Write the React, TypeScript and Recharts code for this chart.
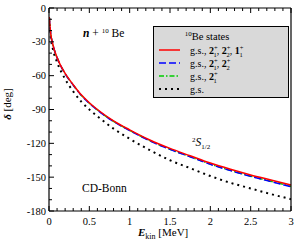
import React from "react";
import { LineChart, Line, XAxis, YAxis } from "recharts";

const energies = [0.003, 0.02, 0.05, 0.1, 0.2, 0.3, 0.4, 0.5, 0.6, 0.8, 1.0, 1.25, 1.5, 1.75, 2.0, 2.25, 2.5, 2.75, 3.0];
const fullStates = [-8, -22, -33, -44, -58, -68, -77, -84, -90, -100, -108, -117, -124.5, -131, -137.5, -143, -148, -152.5, -157];
const twoPlusStates = [-8, -22, -33, -44, -58.3, -68.4, -77.4, -84.5, -90.5, -100.6, -108.7, -117.8, -125.4, -132, -138.6, -144.2, -149.3, -153.9, -158.5];
const onePlusStates = [-8, -22, -33, -44, -58.2, -68.3, -77.3, -84.4, -90.4, -100.5, -108.5, -117.6, -125.2, -131.8, -138.4, -144, -149.1, -153.6, -158.2];
const gsOnly = [-9, -25, -37, -48, -63, -74, -83, -90, -96, -107, -116, -126, -135, -142, -149, -155, -160, -165, -169.5];

const xMajorTicks = [0, 0.5, 1, 1.5, 2, 2.5, 3];
const xAllTicks = [0, 0.1, 0.2, 0.3, 0.4, 0.5, 0.6, 0.7, 0.8, 0.9, 1, 1.1, 1.2, 1.3, 1.4, 1.5, 1.6, 1.7, 1.8, 1.9, 2, 2.1, 2.2, 2.3, 2.4, 2.5, 2.6, 2.7, 2.8, 2.9, 3];
const yMajorTicks = [0, -30, -60, -90, -120, -150, -180];
const yAllTicks = [0, -10, -20, -30, -40, -50, -60, -70, -80, -90, -100, -110, -120, -130, -140, -150, -160, -170, -180];

const data = energies.map((E, i) => ({
  E,
  full: fullStates[i],
  two: twoPlusStates[i],
  one: onePlusStates[i],
  gs: gsOnly[i],
}));

const FONT = "'Liberation Serif', 'DejaVu Serif', serif";

const isMajor = (v: number, majors: number[]) => majors.some((m) => Math.abs(m - v) < 1e-6);

const makeXTick = (side: "bottom" | "top") => (props: any) => {
  const { x, y, payload } = props;
  const v = payload.value;
  const major = isMajor(v, xMajorTicks);
  const len = major ? 5 : 3;
  const dir = side === "bottom" ? -1 : 1;
  return (
    <g>
      <line x1={x} y1={y} x2={x} y2={y + dir * len} stroke="#000" strokeWidth={1} />
      {side === "bottom" && major && (
        <text x={x} y={y + 14} textAnchor="middle" fontFamily={FONT} fontSize={10.5} fill="#000">
          {String(v)}
        </text>
      )}
    </g>
  );
};

const makeYTick = (side: "left" | "right") => (props: any) => {
  const { x, y, payload } = props;
  const v = payload.value;
  const major = isMajor(v, yMajorTicks);
  const len = major ? 5 : 3;
  const dir = side === "left" ? 1 : -1;
  return (
    <g>
      <line x1={x} y1={y} x2={x + dir * len} y2={y} stroke="#000" strokeWidth={1} />
      {side === "left" && major && (
        <text x={x - 3} y={y + 3.5} textAnchor="end" fontFamily={FONT} fontSize={10.5} fill="#000">
          {String(v)}
        </text>
      )}
    </g>
  );
};

const state = (base: string, sup: string, sub: string, key: string) => [
  <tspan key={key + "b"} fontWeight="bold">{base}</tspan>,
  <tspan key={key + "p"} fontSize={6.5} dy={-4}>{sup}</tspan>,
  <tspan key={key + "s"} fontSize={6.5} dx={-4} dy={7}>{sub}</tspan>,
];

const LegendBox = () => (
  <g transform="translate(153,26)">
    <rect x={0.5} y={0.5} width={135} height={71} fill="#d9d9d9" stroke="#000" strokeWidth={1} />
    <text x={54} y={14} textAnchor="middle" fontFamily={FONT} fontSize={10.5} fill="#000">
      <tspan fontSize={7} dy={-4}>10</tspan>
      <tspan dy={4}>Be states</tspan>
    </text>
    <line x1={6} y1={24} x2={27} y2={24} stroke="#ff0000" strokeWidth={1.5} />
    <line x1={6} y1={37} x2={27} y2={37} stroke="#0000ff" strokeWidth={1.5} strokeDasharray="7 3" />
    <line x1={6} y1={50} x2={27} y2={50} stroke="#00cc00" strokeWidth={1.5} strokeDasharray="5 2 1.5 2" />
    <line x1={6} y1={63} x2={27} y2={63} stroke="#000" strokeWidth={2} strokeDasharray="2 4" />
    <text x={37} y={27.5} fontFamily={FONT} fontSize={10} fill="#000">
      <tspan>g.s., </tspan>
      {state("2", "+", "1", "a")}
      <tspan dy={-3}>, </tspan>
      {state("2", "+", "2", "b")}
      <tspan dy={-3}>, </tspan>
      {state("1", "+", "1", "c")}
    </text>
    <text x={37} y={40.5} fontFamily={FONT} fontSize={10} fill="#000">
      <tspan>g.s., </tspan>
      {state("2", "+", "1", "a")}
      <tspan dy={-3}>, </tspan>
      {state("2", "+", "2", "b")}
    </text>
    <text x={37} y={53.5} fontFamily={FONT} fontSize={10} fill="#000">
      <tspan>g.s., </tspan>
      {state("2", "+", "1", "a")}
    </text>
    <text x={37} y={66.5} fontFamily={FONT} fontSize={10} fill="#000">g.s.</text>
  </g>
);

export default function App() {
  return (
    <div style={{ position: "relative", width: 304, height: 242, background: "#fff" }}>
      <style>{`body{margin:0}`}</style>
      <LineChart
        width={304}
        height={242}
        data={data}
        margin={{ top: 7, right: 12, bottom: 30, left: 48 }}
      >
        <XAxis
          xAxisId="bottom"
          type="number"
          dataKey="E"
          domain={[0, 3]}
          ticks={xAllTicks}
          interval={0}
          height={1}
          tickSize={0}
          tickMargin={0}
          axisLine={{ stroke: "#000", strokeWidth: 1.2 }}
          tickLine={false}
          tick={makeXTick("bottom")}
          allowDataOverflow
        />
        <XAxis
          xAxisId="top"
          orientation="top"
          type="number"
          dataKey="E"
          domain={[0, 3]}
          ticks={xAllTicks}
          interval={0}
          height={1}
          tickSize={0}
          tickMargin={0}
          axisLine={{ stroke: "#000", strokeWidth: 1.2 }}
          tickLine={false}
          tick={makeXTick("top")}
        />
        <YAxis
          yAxisId="left"
          type="number"
          domain={[-180, 0]}
          ticks={yAllTicks}
          interval={0}
          width={1}
          tickSize={0}
          tickMargin={0}
          axisLine={{ stroke: "#000", strokeWidth: 1.2 }}
          tickLine={false}
          tick={makeYTick("left")}
          allowDataOverflow
        />
        <YAxis
          yAxisId="right"
          orientation="right"
          type="number"
          domain={[-180, 0]}
          ticks={yAllTicks}
          interval={0}
          width={1}
          tickSize={0}
          tickMargin={0}
          axisLine={{ stroke: "#000", strokeWidth: 1.2 }}
          tickLine={false}
          tick={makeYTick("right")}
        />
        <Line xAxisId="bottom" yAxisId="left" type="monotone" dataKey="gs" stroke="#000" strokeWidth={2} strokeDasharray="2 4" dot={false} isAnimationActive={false} />
        <Line xAxisId="bottom" yAxisId="left" type="monotone" dataKey="one" stroke="#00cc00" strokeWidth={1.5} strokeDasharray="5 2 1.5 2" dot={false} isAnimationActive={false} />
        <Line xAxisId="bottom" yAxisId="left" type="monotone" dataKey="two" stroke="#0000ff" strokeWidth={1.5} strokeDasharray="7 3" dot={false} isAnimationActive={false} />
        <Line xAxisId="bottom" yAxisId="left" type="monotone" dataKey="full" stroke="#ff0000" strokeWidth={1.5} dot={false} isAnimationActive={false} />
      </LineChart>
      <svg width={304} height={242} style={{ position: "absolute", left: 0, top: 0, pointerEvents: "none" }}>
        <LegendBox />
        <text x={83} y={37} fontFamily={FONT} fontSize={11.5} fill="#000">
          <tspan fontWeight="bold" fontStyle="italic">n</tspan>
          <tspan> + </tspan>
          <tspan fontSize={7} dy={-4}>10</tspan>
          <tspan dy={4}> Be</tspan>
        </text>
        <text x={192} y={146} fontFamily={FONT} fontSize={11.5} fill="#000">
          <tspan fontSize={7} dy={-4}>2</tspan>
          <tspan dy={4} fontStyle="italic">S</tspan>
          <tspan fontSize={7} dy={3}>1/2</tspan>
        </text>
        <text x={82} y={192} fontFamily={FONT} fontSize={11.5} fill="#000">CD-Bonn</text>
        <text x={138} y={236} fontFamily={FONT} fontSize={11} fill="#000">
          <tspan fontWeight="bold" fontStyle="italic">E</tspan>
          <tspan fontSize={8} dy={3}>kin</tspan>
          <tspan dy={-3}> [MeV]</tspan>
        </text>
        <text
          x={11}
          y={104}
          transform="rotate(-90 11 104)"
          textAnchor="middle"
          fontFamily={FONT}
          fontSize={11}
          fill="#000"
        >
          <tspan fontWeight="bold" fontStyle="italic">δ</tspan>
          <tspan> [deg]</tspan>
        </text>
      </svg>
    </div>
  );
}
